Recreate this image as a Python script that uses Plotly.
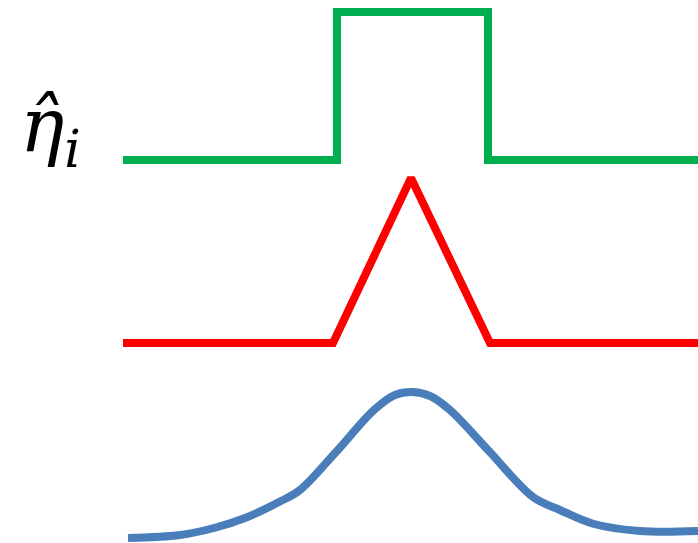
import plotly.graph_objects as go

# values (x in px across, y in px down)
step_x = [123, 337, 337, 488, 488, 698]
step_y = [160, 160, 12, 12, 160, 160]

tri_x = [123, 333, 411, 490, 698]
tri_y = [343, 343, 178, 343, 343]

bump_x = [128, 180, 214, 245, 279, 300, 336, 374, 395, 412, 430, 450, 488, 533, 560, 594, 640, 698]
bump_y = [538, 535, 528, 518, 502, 490, 452, 410, 395, 392, 396, 410, 450, 497, 510, 524, 531, 531]

label = "<i>η̂</i><sub><i>i</i></sub>"

fig = go.Figure()
fig.add_trace(go.Scatter(x=step_x, y=step_y, mode='lines',
                         line=dict(color='#00B050', width=8)))
fig.add_trace(go.Scatter(x=tri_x, y=tri_y, mode='lines',
                         line=dict(color='#FF0000', width=8)))
fig.add_trace(go.Scatter(x=bump_x, y=bump_y, mode='lines', line_shape='spline',
                         line=dict(color='#4A7EBB', width=8)))

fig.add_annotation(x=50, y=130, text=label, showarrow=False,
                   font=dict(family='DejaVu Serif', size=74, color='black'))

fig.update_layout(
    width=698, height=543,
    paper_bgcolor='white', plot_bgcolor='white',
    margin=dict(l=0, r=0, t=0, b=0),
    showlegend=False,
    hovermode=False,
    xaxis=dict(range=[0, 698], visible=False),
    yaxis=dict(range=[543, 0], visible=False),
)

# drop the default page margin so the figure fills the window
fig.write_html("out.html", config={'displayModeBar': False},
               post_script="document.body.style.margin='0';document.body.style.overflow='hidden';")
